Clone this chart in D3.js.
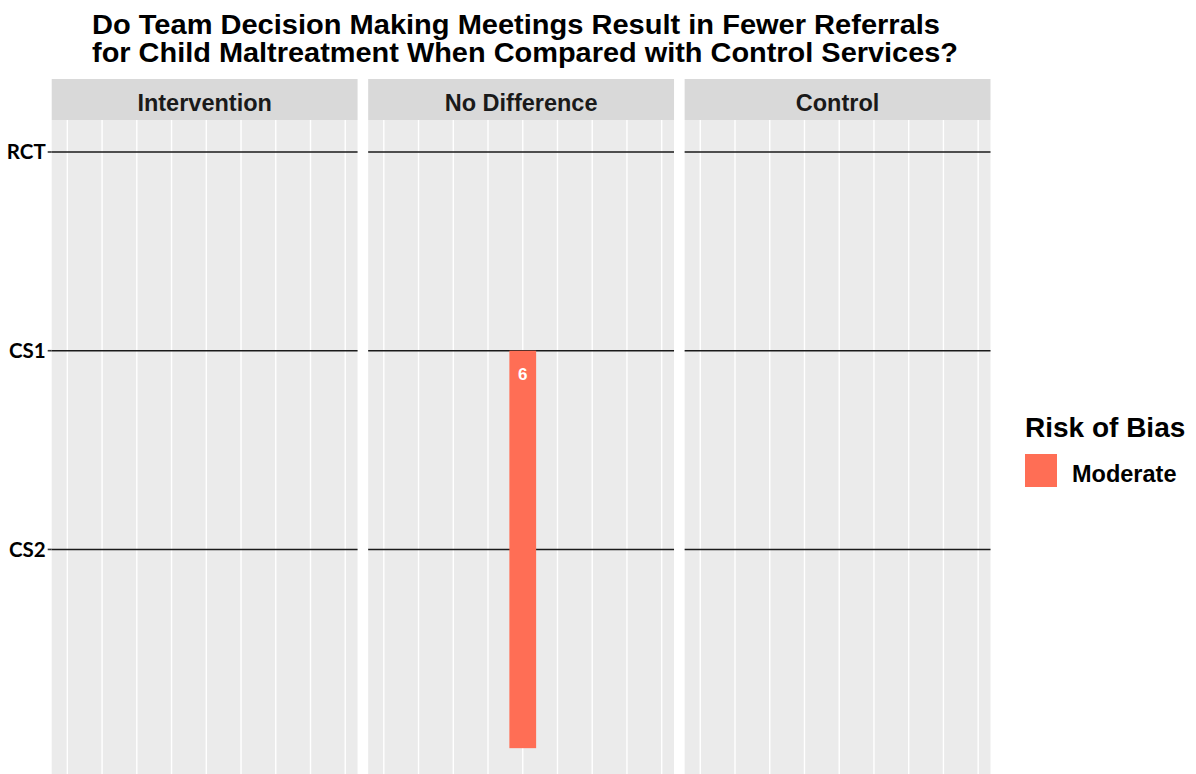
<!DOCTYPE html>
<html>
<head>
<meta charset="utf-8">
<script src="https://cdn.jsdelivr.net/npm/d3@7"></script>
<style>
  body { margin: 0; background: #fff; }
  svg { display: block; font-family: "Liberation Sans", Arial, sans-serif; }
</style>
</head>
<body>
<div id="chart"></div>
<script>
// data
const titleLines = [
  "Do Team Decision Making Meetings Result in Fewer Referrals",
  "for Child Maltreatment When Compared with Control Services?"
];
const panels = ["Intervention", "No Difference", "Control"];
const designs = ["RCT", "CS1", "CS2"];
const gridTicks = [1, 2, 3, 4, 5, 6, 7, 8, 9];
const riskLevels = ["Moderate"];
const riskColors = ["#ff6e55"];

// one bar: panel, x slot, start row, end row, count label, risk
const bars = [
  { panel: "No Difference", slot: 5, from: 1, to: 3, count: 6, risk: "Moderate" }
];

// dimensions
const W = 1196, H = 774;
const plot = { left: 51.7, right: 990.5, stripTop: 79, stripBottom: 120, bottom: 774 };
const titleWidths = [848, 866]; // title is drawn a bit wide in the original

const svg = d3.select("#chart").append("svg")
  .attr("width", W)
  .attr("height", H);

// title
svg.append("g").selectAll("text")
  .data(titleLines)
  .join("text")
  .attr("x", 92)
  .attr("y", (d, i) => 33.5 + i * 28.2)
  .attr("font-size", 27)
  .attr("font-weight", "bold")
  .attr("fill", "#000")
  .attr("textLength", (d, i) => titleWidths[i])
  .attr("lengthAdjust", "spacingAndGlyphs")
  .text(d => d);

// scales
const fx = d3.scaleBand()
  .domain(panels)
  .range([plot.left, plot.right])
  .paddingInner(0.0335);

const x = d3.scaleLinear()
  .domain([0.55, 9.355])
  .range([0, fx.bandwidth()]);

const y = d3.scaleLinear()
  .domain([-0.161, 3.13])
  .range([plot.stripBottom, plot.bottom]);

const color = d3.scaleOrdinal().domain(riskLevels).range(riskColors);

const barWidth = 0.77;

// panels
const panel = svg.append("g").selectAll("g")
  .data(panels)
  .join("g")
  .attr("transform", d => `translate(${fx(d)},0)`);

panel.append("rect")
  .attr("y", plot.stripBottom)
  .attr("width", fx.bandwidth())
  .attr("height", plot.bottom - plot.stripBottom)
  .attr("fill", "#ebebeb");

panel.append("rect")
  .attr("y", plot.stripTop)
  .attr("width", fx.bandwidth())
  .attr("height", plot.stripBottom - plot.stripTop)
  .attr("fill", "#d9d9d9");

panel.append("text")
  .attr("x", fx.bandwidth() / 2)
  .attr("y", 111)
  .attr("text-anchor", "middle")
  .attr("font-size", 23.5)
  .attr("font-weight", "bold")
  .attr("fill", "#1a1a1a")
  .text(d => d);

// vertical gridlines
panel.append("g").selectAll("line")
  .data(gridTicks)
  .join("line")
  .attr("x1", d => x(d))
  .attr("x2", d => x(d))
  .attr("y1", plot.stripBottom)
  .attr("y2", plot.bottom)
  .attr("stroke", "#fff")
  .attr("stroke-width", 1.4);

// design lines
panel.append("g").selectAll("line")
  .data(designs)
  .join("line")
  .attr("x1", 0)
  .attr("x2", fx.bandwidth())
  .attr("y1", (d, i) => y(i))
  .attr("y2", (d, i) => y(i))
  .attr("stroke", "#1a1a1a")
  .attr("stroke-width", 1.6);

// bars
panel.each(function(p) {
  const g = d3.select(this);
  const rows = bars.filter(b => b.panel === p);
  g.selectAll("rect.bar")
    .data(rows)
    .join("rect")
    .attr("class", "bar")
    .attr("x", d => x(d.slot - barWidth / 2))
    .attr("width", d => x(d.slot + barWidth / 2) - x(d.slot - barWidth / 2))
    .attr("y", d => y(d.from))
    .attr("height", d => y(d.to) - y(d.from))
    .attr("fill", d => color(d.risk));
  g.selectAll("text.count")
    .data(rows)
    .join("text")
    .attr("class", "count")
    .attr("x", d => x(d.slot))
    .attr("y", d => y(d.from) + 29)
    .attr("text-anchor", "middle")
    .attr("font-size", 17)
    .attr("font-weight", "bold")
    .attr("fill", "#fff")
    .text(d => d.count);
});

// y axis
const yAxis = svg.append("g");
yAxis.selectAll("line")
  .data(designs)
  .join("line")
  .attr("x1", plot.left - 4)
  .attr("x2", plot.left)
  .attr("y1", (d, i) => y(i))
  .attr("y2", (d, i) => y(i))
  .attr("stroke", "#333")
  .attr("stroke-width", 1.6);
yAxis.selectAll("text")
  .data(designs)
  .join("text")
  .attr("x", plot.left - 6)
  .attr("y", (d, i) => y(i) + 7.5)
  .attr("text-anchor", "end")
  .attr("font-family", "Lato, 'Open Sans', sans-serif")
  .attr("font-size", 20.5)
  .attr("font-weight", "bold")
  .attr("fill", "#000")
  .text(d => d);

// legend
const legend = svg.append("g").attr("transform", "translate(1025,0)");
legend.append("text")
  .attr("x", 0)
  .attr("y", 437)
  .attr("font-size", 28)
  .attr("font-weight", "bold")
  .attr("fill", "#000")
  .text("Risk of Bias");
const item = legend.selectAll("g.item")
  .data(riskLevels)
  .join("g")
  .attr("class", "item")
  .attr("transform", (d, i) => `translate(0,${454 + i * 36})`);
item.append("rect")
  .attr("width", 32)
  .attr("height", 33)
  .attr("fill", d => color(d));
item.append("text")
  .attr("x", 47)
  .attr("y", 28)
  .attr("font-size", 23.5)
  .attr("font-weight", "bold")
  .attr("fill", "#000")
  .text(d => d);
</script>
</body>
</html>
